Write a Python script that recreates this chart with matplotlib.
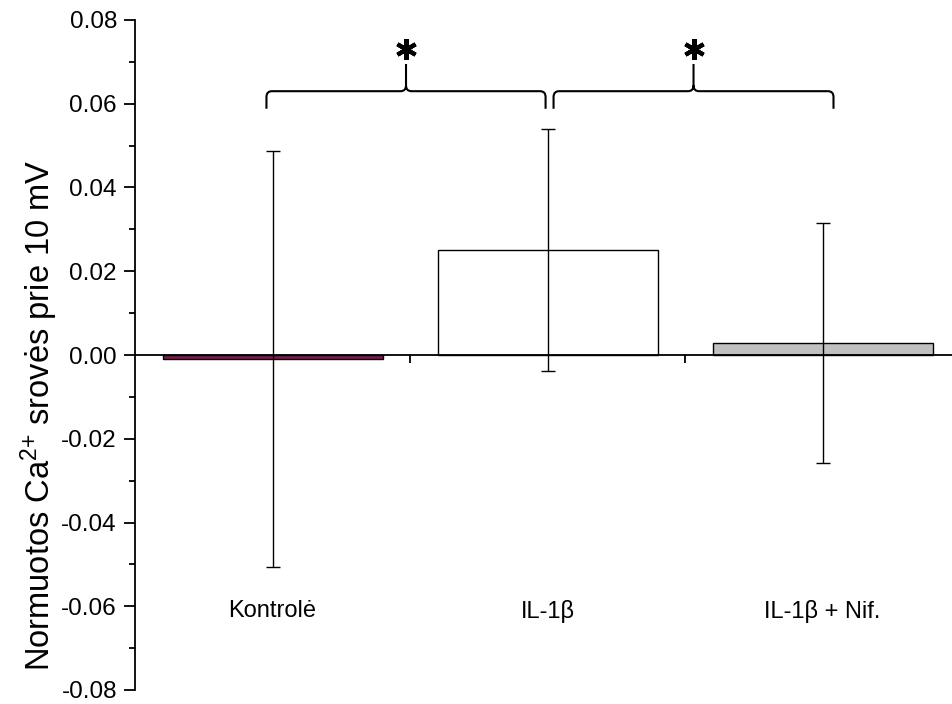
import matplotlib
matplotlib.use("Agg")
import matplotlib.pyplot as plt
from matplotlib.path import Path
from matplotlib.patches import PathPatch
from matplotlib.ticker import MultipleLocator, FixedLocator, NullFormatter

plt.rcParams['font.family'] = ['Liberation Sans', 'DejaVu Sans']
plt.rcParams['mathtext.fontset'] = 'custom'
plt.rcParams['mathtext.rm'] = 'Liberation Sans'
plt.rcParams['mathtext.it'] = 'Liberation Sans:italic'
plt.rcParams['mathtext.bf'] = 'Liberation Sans:bold'

# Group means and error half-widths
groups = ["Kontrolė", "IL-1β", "IL-1β + Nif."]
means = [-0.0009, 0.0250, 0.0029]
errors = [0.0497, 0.0289, 0.0287]
fills = ["#7a1e4e", "#ffffff", "#c0c0c0"]

# Significance brackets: (start, end)
brackets = [(0.978, 1.993), (2.022, 3.040)]

fig = plt.figure(figsize=(9.53, 7.04), dpi=100)
ax = fig.add_axes([135 / 953, 14 / 704, (960 - 135) / 953, 670 / 704])

x = list(range(1, len(groups) + 1))
ax.bar(x, means, width=0.8, color=fills, edgecolor="black", linewidth=1.0, zorder=2)
ax.errorbar(x, means, yerr=errors, fmt="none", ecolor="black", elinewidth=1.0,
            capsize=5, capthick=1.0, zorder=3)

ax.set_xlim(0.5, 3.5)
ax.set_ylim(-0.08, 0.08)

# Axes styling
ax.spines["top"].set_visible(False)
ax.spines["right"].set_visible(False)
ax.spines["bottom"].set_position(("data", 0))
for s in ("left", "bottom"):
    ax.spines[s].set_linewidth(1.3)

ax.yaxis.set_major_locator(MultipleLocator(0.02))
ax.yaxis.set_minor_locator(MultipleLocator(0.01))
ax.yaxis.set_major_formatter(plt.FuncFormatter(lambda v, p: f"{v:.2f}"))
ax.tick_params(axis="y", which="major", length=8, width=1.3, labelsize=17.5,
               direction="out", pad=5)
ax.tick_params(axis="y", which="minor", length=4, width=1.3, direction="out")

ax.xaxis.set_major_locator(FixedLocator([1.5, 2.5]))
ax.xaxis.set_major_formatter(NullFormatter())
ax.tick_params(axis="x", which="major", length=6, width=1.3, direction="out")

ax.set_ylabel("Normuotos Ca$^{2{+}}$ srovės prie 10 mV", fontsize=23.5)
ax.yaxis.set_label_coords(-0.091, 0.41)

# Category names inside the plot area
for xi, name in zip(x, groups):
    ax.text(xi, -0.0612, name, ha="center", va="center", fontsize=17)

# Curly brackets with significance markers
y_line = 0.0630
y_end = 0.0588
y_tip = 0.0695
rx = 0.020
ry = 0.0014


def brace(x0, x1):
    xm = 0.5 * (x0 + x1)
    verts = [
        (x0, y_end), (x0, y_line - ry), (x0, y_line), (x0 + rx, y_line),
        (xm - rx, y_line), (xm, y_line), (xm, y_line + ry), (xm, y_tip),
        (xm, y_line + ry), (xm, y_line), (xm + rx, y_line),
        (x1 - rx, y_line), (x1, y_line), (x1, y_line - ry), (x1, y_end),
    ]
    codes = [
        Path.MOVETO, Path.LINETO, Path.CURVE3, Path.CURVE3,
        Path.LINETO, Path.CURVE3, Path.CURVE3, Path.LINETO,
        Path.MOVETO, Path.CURVE3, Path.CURVE3,
        Path.LINETO, Path.CURVE3, Path.CURVE3, Path.LINETO,
    ]
    return Path(verts, codes)


for x0, x1 in brackets:
    ax.add_patch(PathPatch(brace(x0, x1), facecolor="none", edgecolor="black",
                           linewidth=1.5, capstyle="butt", clip_on=False, zorder=4))
    ax.plot([0.5 * (x0 + x1)], [0.0730], marker=(6, 2, 0), markersize=15,
            markeredgewidth=3.0, color="black", clip_on=False, zorder=5)

fig.savefig("out.png", dpi=100)
